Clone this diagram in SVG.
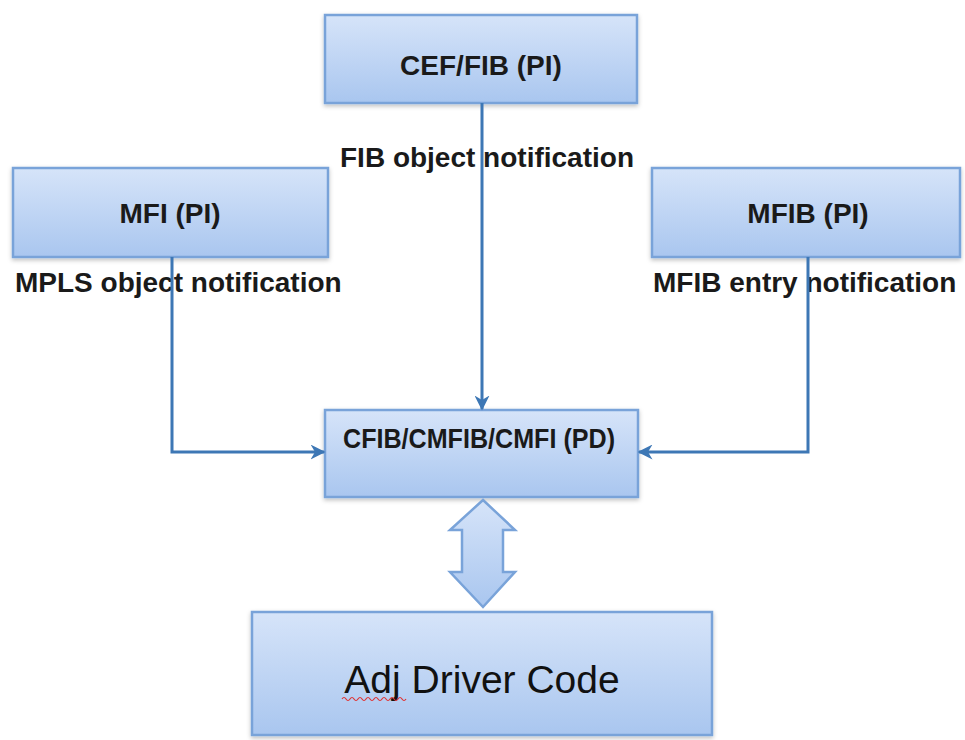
<svg xmlns="http://www.w3.org/2000/svg" width="965" height="740" viewBox="0 0 965 740">
<style>
.box{fill:url(#g);stroke:#79a3d9;stroke-width:2.5;filter:url(#sh)}
.t{font-family:"Liberation Sans",Arial,sans-serif;font-weight:bold;font-size:28px;fill:#1a1a1a;text-anchor:middle}
.lbl{font-family:"Liberation Sans",Arial,sans-serif;font-weight:bold;font-size:28px;fill:#1a1a1a}
.c{fill:none;stroke:#3d77b5;stroke-width:3;marker-end:url(#ah)}
</style>
<defs>
<linearGradient id="g" x1="0" y1="0" x2="0" y2="1">
<stop offset="0" stop-color="#d6e4f9"/>
<stop offset="1" stop-color="#a9c6ef"/>
</linearGradient>
<filter id="sh" x="-5%" y="-5%" width="110%" height="120%">
<feDropShadow dx="0" dy="2" stdDeviation="2" flood-color="#000" flood-opacity="0.25"/>
</filter>
<marker id="ah" viewBox="0 0 10 10" refX="9" refY="5" markerWidth="5" markerHeight="5" orient="auto" markerUnits="strokeWidth">
<path d="M0,0 L10,5 L0,10 L3,5 Z" fill="#3d77b5"/>
</marker>
</defs>
<rect width="965" height="740" fill="#fff"/>
<g id="cef">
<rect class="box" x="325" y="15" width="312" height="88"/>
<text class="t" x="481" y="75">CEF/FIB (PI)</text>
</g>
<g id="mfi">
<rect class="box" x="13" y="168" width="315" height="89"/>
<text class="t" x="170" y="223">MFI (PI)</text>
</g>
<g id="mfib">
<rect class="box" x="652" y="168" width="308" height="89"/>
<text class="t" x="808" y="223">MFIB (PI)</text>
</g>
<g id="cfib">
<rect class="box" x="325" y="410" width="313" height="87"/>
<text class="t" x="479" y="448" font-size="26" textLength="272" lengthAdjust="spacingAndGlyphs">CFIB/CMFIB/CMFI (PD)</text>
</g>
<g id="adj">
<rect class="box" x="252" y="612" width="460" height="123"/>
<text x="482" y="693" font-family="'Liberation Sans',Arial,sans-serif" font-size="39" fill="#111" text-anchor="middle">Adj Driver Code</text>
<path d="M342,699 q2,-3 4,0 t4,0 t4,0 t4,0 t4,0 t4,0 t4,0 t4,0 t4,0 t4,0 t4,0 t4,0 t4,0 t4,0 t4,0 t4,0" fill="none" stroke="#e03030" stroke-width="1.2"/>
</g>
<g id="connectors">
<text class="lbl" x="340" y="167">FIB object notification</text>
<text class="lbl" x="15" y="292">MPLS object notification</text>
<text class="lbl" x="653" y="292">MFIB entry notification</text>
<path class="c" d="M482,103 V409"/>
<path class="c" d="M172,257 V452 H324"/>
<path class="c" d="M808,257 V452 H639"/>
<path d="M483,500 L515,530 L503,530 L503,572 L515,572 L483,607 L450,572 L462,572 L462,530 L450,530 Z" fill="url(#g)" stroke="#79a3d9" stroke-width="2.5"/>
</g>
</svg>
